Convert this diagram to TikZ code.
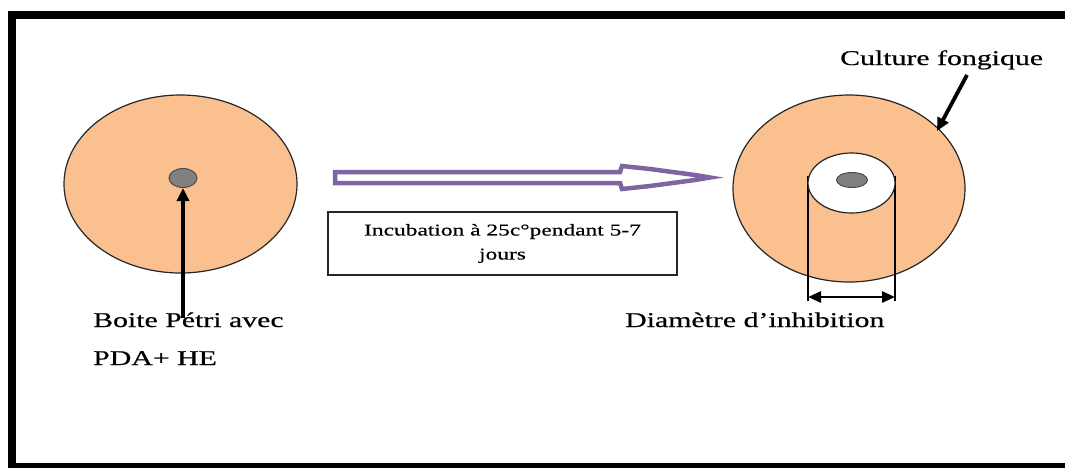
\documentclass[tikz,border=0pt]{standalone}
\usepackage{fontspec}
\setmainfont{Liberation Serif}
\newfontfamily\widefont[FakeStretch=1.42,FakeBold=0.5]{Liberation Serif}
\usetikzlibrary{shapes.geometric,arrows.meta}
\definecolor{culture}{HTML}{FAC090}
\definecolor{disc}{HTML}{808080}
\definecolor{violet}{HTML}{8064A2}
\begin{document}
\begin{tikzpicture}[x=1pt,y=-1pt,
  dish/.style={ellipse,draw=black!85,line width=1.2pt,fill=culture,inner sep=0pt},
  spot/.style={ellipse,draw=black!70,line width=1pt,fill=disc,inner sep=0pt},
  label/.style={font=\widefont\fontsize{21}{25}\selectfont,inner sep=0pt},
  pointer/.style={line width=3.8pt,-{Triangle[length=13pt,width=12pt]}},
  measure/.style={line width=2.8pt,{Triangle[length=13pt,width=11pt]}-{Triangle[length=13pt,width=11pt]}}]
\useasboundingbox (0,0) rectangle (1065,467);
\clip (0,0) rectangle (1065,467);
% outer frame, running off the right and bottom edges
\draw[line width=8pt] (12,471) -- (12,15) -- (1075,15);
\draw[line width=8pt] (8,467) -- (1075,467);

% Petri dish before incubation
\node[dish,minimum width=233,minimum height=178] (dishA) at (180.5,184) {};
\node[spot,minimum width=28,minimum height=19] (spotA) at (183,178) {};
\node[label,anchor=base west] (labA) at (93,327) {Boite Pétri avec};
\node[label,anchor=base west] (labB) at (93,365) {PDA+ HE};
\coordinate (tailA) at (183,318);
\draw[pointer] (tailA) -- (spotA.south);

% incubation arrow and caption
\coordinate (arrS) at (335,172);
\draw[violet,line width=4.5pt,line join=miter]
  (arrS) -- (620,172) -- (622,166) -- (650,169) -- (695,175) -- (710,177.5)
  -- (695,180) -- (650,186) -- (622,189) -- (620,183) -- (335,183) -- cycle;
\node[draw=black!85,line width=1.3pt,minimum width=349,minimum height=63,inner sep=0pt,
      align=center,font=\widefont\fontsize{16.5}{24}\selectfont]
  (incub) at (502.5,243.5) {Incubation à 25c°pendant 5-7\\jours};

% Petri dish after incubation, with inhibition zone
\node[dish,minimum width=232,minimum height=187] (dishB) at (849,188.5) {};
\coordinate (cylL) at (808,176);
\coordinate (cylR) at (895,176);
\coordinate (cylLb) at (808,301);
\coordinate (cylRb) at (895,301);
\draw[line width=1.7pt] (cylL) -- (cylLb) (cylR) -- (cylRb);
\node[ellipse,draw=black!85,line width=1.2pt,fill=white,inner sep=0pt,
      minimum width=87,minimum height=60] (zone) at (851.5,183) {};
\node[spot,minimum width=31,minimum height=15] (spotB) at (852,180) {};
\coordinate (mL) at (808,297);
\coordinate (mR) at (895,297);
\draw[measure] (mL) -- (mR);
\node[label,anchor=base west] (labC) at (625,327) {Diamètre d’inhibition};
\node[label,anchor=base west] (labD) at (840,65) {Culture fongique};
\coordinate (tailB) at (967,75);
\coordinate (tipB) at (937,131);
\draw[pointer] (tailB) -- (tipB);
\end{tikzpicture}
\end{document}
